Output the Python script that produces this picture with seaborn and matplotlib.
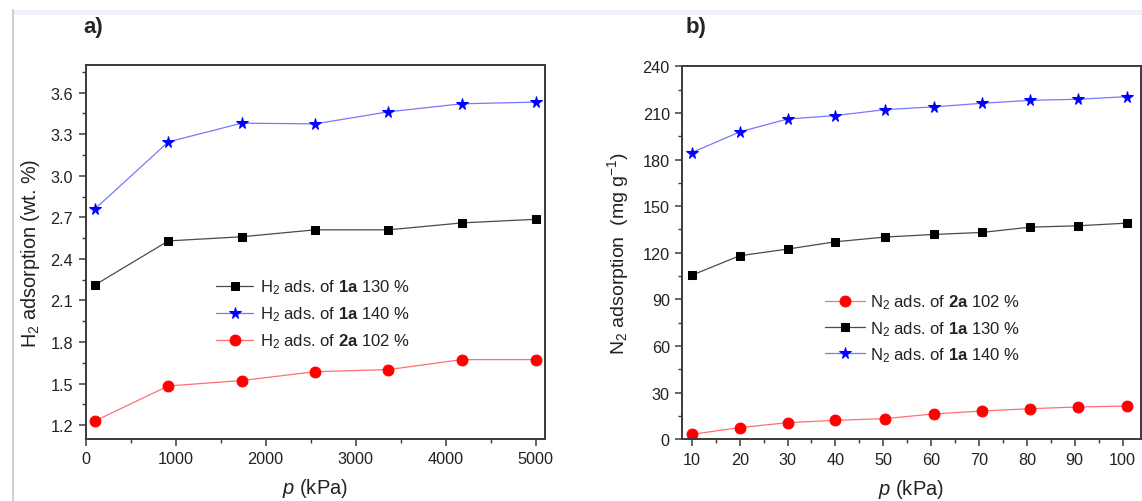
import matplotlib
matplotlib.use("Agg")
import matplotlib.pyplot as plt
from matplotlib.patches import Rectangle
from matplotlib.lines import Line2D
from matplotlib.ticker import MultipleLocator
import seaborn as sns
import pandas as pd

# ---- data: panel a (H2) ----
h2_p = [100, 920, 1735, 2550, 3365, 4180, 5000]
h2_1a_130 = [2.21, 2.53, 2.56, 2.61, 2.61, 2.66, 2.686]
h2_1a_140 = [2.758, 3.245, 3.38, 3.375, 3.462, 3.52, 3.532]
h2_2a_102 = [1.229, 1.483, 1.522, 1.586, 1.601, 1.673, 1.673]

# ---- data: panel b (N2) ----
n2_p = [10, 20, 30, 40, 50.3, 60.5, 70.6, 80.7, 90.8, 101]
n2_2a_102 = [3.2, 7.5, 10.7, 12.2, 13.3, 16.3, 18.2, 19.7, 20.8, 21.4]
n2_1a_130 = [105.6, 118.1, 122.4, 127.1, 130.1, 131.8, 133.1, 136.5, 137.4, 139.1]
n2_1a_140 = [184.5, 197.8, 206.1, 208.3, 212.1, 213.9, 216.2, 218.1, 218.8, 220.5]

h2_labels = [r"H$_2$ ads. of $\mathbf{1a}$ 130 %",
             r"H$_2$ ads. of $\mathbf{1a}$ 140 %",
             r"H$_2$ ads. of $\mathbf{2a}$ 102 %"]
n2_labels = [r"N$_2$ ads. of $\mathbf{2a}$ 102 %",
             r"N$_2$ ads. of $\mathbf{1a}$ 130 %",
             r"N$_2$ ads. of $\mathbf{1a}$ 140 %"]

sns.set_style("ticks")
plt.rcParams['font.family'] = ['Liberation Sans', 'DejaVu Sans']
plt.rcParams['mathtext.fontset'] = 'custom'
plt.rcParams['mathtext.rm'] = 'Liberation Sans'
plt.rcParams['mathtext.it'] = 'Liberation Sans:italic'
plt.rcParams['mathtext.bf'] = 'Liberation Sans:bold'

fig = plt.figure(figsize=(11.42, 5.02), dpi=100)
W, H = 1142, 502

def px_axes(l, t, r, b):
    return fig.add_axes([l / W, 1 - b / H, (r - l) / W, (b - t) / H])

axA = px_axes(85.5, 66, 544.7, 440)
axB = px_axes(682.3, 67.3, 1140.7, 440.3)

styles = {
    'sq': dict(marker='s', color='#4a4a4a', markerfacecolor='black', markeredgecolor='black', markersize=6.0),
    'st': dict(marker='*', color='#7777ff', markerfacecolor='#0000ff', markeredgecolor='#0000ff', markersize=8.5),
    'ci': dict(marker='o', color='#ff7070', markerfacecolor='#ff0000', markeredgecolor='#ff0000', markersize=7.8),
}

def draw(ax, x, y, st, label):
    df = pd.DataFrame({'x': x, 'y': y})
    sns.lineplot(data=df, x='x', y='y', ax=ax, linewidth=0.9, label=label,
                 sort=False, estimator=None, **styles[st])

draw(axA, h2_p, h2_1a_130, 'sq', h2_labels[0])
draw(axA, h2_p, h2_1a_140, 'st', h2_labels[1])
draw(axA, h2_p, h2_2a_102, 'ci', h2_labels[2])

draw(axB, n2_p, n2_2a_102, 'ci', n2_labels[0])
draw(axB, n2_p, n2_1a_130, 'sq', n2_labels[1])
draw(axB, n2_p, n2_1a_140, 'st', n2_labels[2])

axA.set_xlim(0, 5100)
axA.set_ylim(1.1, 3.8)
axA.xaxis.set_major_locator(MultipleLocator(1000))
axA.xaxis.set_minor_locator(MultipleLocator(500))
axA.yaxis.set_major_locator(MultipleLocator(0.3))
axA.yaxis.set_minor_locator(MultipleLocator(0.15))
axA.yaxis.set_major_formatter(matplotlib.ticker.FormatStrFormatter('%.1f'))

axB.set_xlim(8, 103.8)
axB.set_ylim(0, 240)
axB.xaxis.set_major_locator(MultipleLocator(10))
axB.xaxis.set_minor_locator(MultipleLocator(5))
axB.yaxis.set_major_locator(MultipleLocator(30))
axB.yaxis.set_minor_locator(MultipleLocator(15))

for ax in (axA, axB):
    for s in ax.spines.values():
        s.set_visible(True)
        s.set_color('#3a3a3a')
        s.set_linewidth(1.4)
    ax.tick_params(which='major', direction='out', length=5, width=1.1, color='#3a3a3a',
                   labelsize=11.7, labelcolor='#222222', pad=4)
    ax.tick_params(which='minor', direction='out', length=3, width=1.0, color='#3a3a3a')
    ax.tick_params(top=False, right=False, which='both')
    ax.set_xlabel(r"$p$ (kPa)", fontsize=14.5, color='#222222', labelpad=7)

axA.set_ylabel(r"H$_2$ adsorption (wt. %)", fontsize=14.3, color='#222222', labelpad=6)
axB.set_ylabel(r"N$_2$ adsorption  (mg g$^{-1}$)", fontsize=14, color='#222222', labelpad=8)

legA = axA.legend(loc='upper left', bbox_to_anchor=(0.285, 0.432), frameon=False,
                  fontsize=12, handlelength=2.2, handletextpad=0.4, labelspacing=0.5,
                  borderpad=0, borderaxespad=0)
legB = axB.legend(loc='upper left', bbox_to_anchor=(0.312, 0.393), frameon=False,
                  fontsize=12, handlelength=2.4, handletextpad=0.3, labelspacing=0.45,
                  borderpad=0, borderaxespad=0)
for leg in (legA, legB):
    for t in leg.get_texts():
        t.set_color('#222222')

fig.text(83 / W, 1 - 28 / H, "a)", fontsize=16, fontweight='bold', va='center', ha='left')
fig.text(686 / W, 1 - 28 / H, "b)", fontsize=16, fontweight='bold', va='center', ha='left')

# page-like frame decorations of the source image
fig.patches.append(Rectangle((13 / W, 1 - 16 / H), 1 - 13 / W, 5 / H, transform=fig.transFigure,
                             facecolor='#eef1f8', edgecolor='none', zorder=0))
fig.lines.append(Line2D([13 / W, 13 / W], [0, 1 - 11 / H], transform=fig.transFigure,
                        color='#c8c8c8', linewidth=1.2))

fig.savefig("out.png", dpi=100)
